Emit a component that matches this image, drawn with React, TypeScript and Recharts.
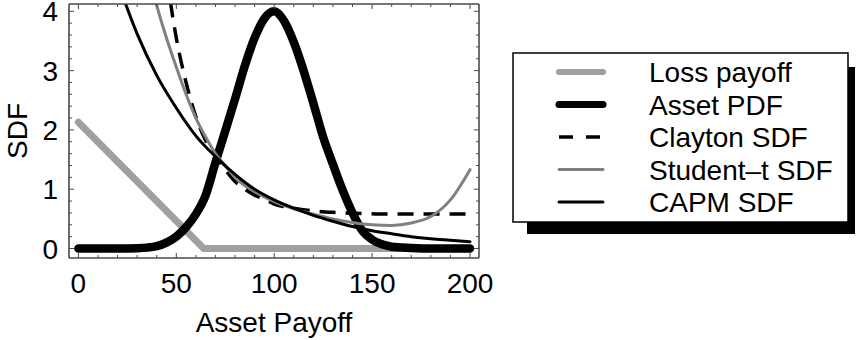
import { LineChart, Line, XAxis, YAxis, Legend, Label } from 'recharts';

const LOSS_X = [0, 64, 200];
const LOSS_Y = [2.13, 0, 0];

const PDF_X = [0, 10, 20, 30, 35, 40, 45, 50, 55, 60, 65, 70, 75, 80, 85, 90, 95, 100, 105, 110, 115, 120, 125, 130, 135, 140, 145, 150, 155, 160, 170, 180, 190, 200];
const PDF_Y = [0, 0, 0, 0.005, 0.015, 0.04, 0.1, 0.2, 0.36, 0.58, 0.9, 1.45, 1.98, 2.52, 3.08, 3.55, 3.88, 4.0, 3.84, 3.48, 3.0, 2.45, 1.88, 1.42, 0.98, 0.6, 0.3, 0.15, 0.07, 0.03, 0.01, 0, 0, 0];

const CLAYTON_X = [45, 50, 55, 60, 65, 70, 75, 80, 85, 90, 95, 100, 110, 120, 130, 140, 150, 160, 180, 200];
const CLAYTON_Y = [4.6, 3.55, 2.8, 2.22, 1.82, 1.56, 1.33, 1.13, 1.0, 0.9, 0.83, 0.75, 0.68, 0.635, 0.61, 0.595, 0.585, 0.58, 0.58, 0.58];

const STUDENT_X = [35, 40, 45, 50, 55, 60, 65, 70, 75, 80, 90, 100, 110, 120, 130, 140, 150, 160, 170, 180, 190, 200];
const STUDENT_Y = [4.75, 4.1, 3.55, 3.06, 2.6, 2.2, 1.88, 1.6, 1.4, 1.2, 0.96, 0.79, 0.67, 0.58, 0.5, 0.44, 0.4, 0.39, 0.43, 0.54, 0.82, 1.33];

const CAPM_X = [20, 30, 40, 50, 60, 70, 80, 90, 100, 110, 120, 130, 140, 150, 160, 170, 180, 190, 200];
const CAPM_Y = [4.5, 3.62, 2.92, 2.37, 1.9, 1.55, 1.25, 1.0, 0.82, 0.68, 0.56, 0.46, 0.37, 0.3, 0.25, 0.2, 0.165, 0.14, 0.115];

const SERIES_NAMES = ['Loss payoff', 'Asset PDF', 'Clayton SDF', 'Student\u2013t SDF', 'CAPM SDF'];

const X_TICKS = [0, 10, 20, 30, 40, 50, 60, 70, 80, 90, 100, 110, 120, 130, 140, 150, 160, 170, 180, 190, 200];
const Y_TICKS = [0, 0.2, 0.4, 0.6, 0.8, 1, 1.2, 1.4, 1.6, 1.8, 2, 2.2, 2.4, 2.6, 2.8, 3, 3.2, 3.4, 3.6, 3.8, 4];

const X_DOMAIN = [-4.8, 204.6];
const Y_DOMAIN = [-0.16, 4.123];

const toPoints = (xs: number[], ys: number[]) => xs.map((x, i) => ({ x, y: ys[i] }));

const FONT = '"Liberation Sans", Arial, Helvetica, sans-serif';
const FRAME = '#4a4a4a';

// line styles, in legend order
const STYLES = [
  { color: '#a0a0a0', width: 7, dash: undefined, legendWidth: 6, legendDash: undefined },
  { color: '#000000', width: 8.5, dash: undefined, legendWidth: 7, legendDash: undefined },
  { color: '#000000', width: 3.5, dash: '16 10', legendWidth: 3.5, legendDash: '14 13' },
  { color: '#808080', width: 3, dash: undefined, legendWidth: 3, legendDash: undefined },
  { color: '#000000', width: 3, dash: undefined, legendWidth: 3, legendDash: undefined },
];

const SERIES_DATA = [
  toPoints(LOSS_X, LOSS_Y),
  toPoints(PDF_X, PDF_Y),
  toPoints(CLAYTON_X, CLAYTON_Y),
  toPoints(STUDENT_X, STUDENT_Y),
  toPoints(CAPM_X, CAPM_Y),
];

const XTick = ({ x, y, payload, side }: any) => {
  const v = payload.value;
  const major = v % 50 === 0;
  const len = major ? 5 : 3;
  const dir = side === 'bottom' ? -1 : 1;
  return (
    <g>
      <line x1={x} y1={y} x2={x} y2={y + dir * len} stroke={FRAME} strokeWidth={1} />
      {side === 'bottom' && major && (
        <text x={x} y={y + 35} textAnchor="middle" fontSize={28} fontFamily={FONT} fill="#000">
          {v}
        </text>
      )}
    </g>
  );
};

const YTick = ({ x, y, payload, side }: any) => {
  const v = payload.value;
  const major = Number.isInteger(v);
  const len = major ? 5 : 3;
  const dir = side === 'left' ? 1 : -1;
  return (
    <g>
      <line x1={x} y1={y} x2={x + dir * len} y2={y} stroke={FRAME} strokeWidth={1} />
      {side === 'left' && major && (
        <text x={x - 11} y={y + 10} textAnchor="end" fontSize={28} fontFamily={FONT} fill="#000">
          {v}
        </text>
      )}
    </g>
  );
};

const LegendBox = () => {
  const boxX = 513;
  const boxY = 53;
  const rowY = [72, 104.5, 137, 169.5, 202];
  return (
    <svg width={856} height={340} style={{ position: 'absolute', left: 0, top: 0, pointerEvents: 'none' }}>
      <rect x={527} y={67} width={328} height={167} fill="#000" />
      <rect x={boxX} y={boxY} width={335} height={169} fill="#fff" stroke="#000" strokeWidth={1.5} />
      {SERIES_NAMES.map((name, i) => (
        <g key={name}>
          <line
            x1={559}
            x2={603}
            y1={rowY[i]}
            y2={rowY[i]}
            stroke={STYLES[i].color}
            strokeWidth={STYLES[i].legendWidth}
            strokeDasharray={STYLES[i].legendDash}
            strokeLinecap={STYLES[i].legendDash ? 'butt' : 'round'}
          />
          <text x={649} y={rowY[i] + 10} fontSize={28} fontFamily={FONT} fill="#000">
            {name}
          </text>
        </g>
      ))}
    </svg>
  );
};

export default function App() {
  return (
    <div style={{ position: 'absolute', left: 0, top: 0, width: 856, height: 340, background: '#fff', fontFamily: FONT }}>
      <LineChart width={856} height={340} margin={{ top: 0, right: 0, bottom: 0, left: 0 }}>
        <XAxis
          dataKey="x"
          type="number"
          domain={X_DOMAIN}
          allowDataOverflow
          ticks={X_TICKS}
          interval={0}
          height={82}
          tickSize={0}
          tickMargin={0}
          tickLine={false}
          axisLine={{ stroke: FRAME, strokeWidth: 1.6 }}
          tick={<XTick side="bottom" />}
        >
          <Label
            content={({ viewBox }: any) => (
              <text
                x={viewBox.x + viewBox.width / 2}
                y={viewBox.y + 74}
                textAnchor="middle"
                fontSize={28}
                fontFamily={FONT}
                fill="#000"
              >
                Asset Payoff
              </text>
            )}
          />
        </XAxis>
        <XAxis
          xAxisId="top"
          orientation="top"
          dataKey="x"
          type="number"
          domain={X_DOMAIN}
          allowDataOverflow
          ticks={X_TICKS}
          interval={0}
          height={4}
          tickSize={0}
          tickMargin={0}
          tickLine={false}
          axisLine={{ stroke: FRAME, strokeWidth: 1.6 }}
          tick={<XTick side="top" />}
        />
        <YAxis
          type="number"
          domain={Y_DOMAIN}
          allowDataOverflow
          ticks={Y_TICKS}
          interval={0}
          width={69}
          tickSize={0}
          tickMargin={0}
          tickLine={false}
          axisLine={{ stroke: FRAME, strokeWidth: 1.6 }}
          tick={<YTick side="left" />}
        >
          <Label
            content={({ viewBox }: any) => {
              const cx = 27;
              const cy = viewBox.y + viewBox.height / 2;
              return (
                <text
                  x={cx}
                  y={cy}
                  transform={`rotate(-90, ${cx}, ${cy})`}
                  textAnchor="middle"
                  fontSize={28}
                  fontFamily={FONT}
                  fill="#000"
                >
                  SDF
                </text>
              );
            }}
          />
        </YAxis>
        <YAxis
          yAxisId="right"
          orientation="right"
          type="number"
          domain={Y_DOMAIN}
          allowDataOverflow
          ticks={Y_TICKS}
          interval={0}
          width={377}
          tickSize={0}
          tickMargin={0}
          tickLine={false}
          axisLine={{ stroke: FRAME, strokeWidth: 1.6 }}
          tick={<YTick side="right" />}
        />
        <Legend
          layout="vertical"
          align="center"
          verticalAlign="middle"
          wrapperStyle={{ left: 0, top: 0, width: 856, height: 340, pointerEvents: 'none' }}
          content={() => <LegendBox />}
        />
        {SERIES_NAMES.map((name, i) => (
          <Line
            key={name}
            name={name}
            data={SERIES_DATA[i]}
            dataKey="y"
            type={i === 0 ? 'linear' : 'monotone'}
            stroke={STYLES[i].color}
            strokeWidth={STYLES[i].width}
            strokeDasharray={STYLES[i].dash}
            strokeLinecap={STYLES[i].dash ? 'butt' : 'round'}
            strokeLinejoin="round"
            dot={false}
            activeDot={false}
            isAnimationActive={false}
          />
        ))}
      </LineChart>
    </div>
  );
}
